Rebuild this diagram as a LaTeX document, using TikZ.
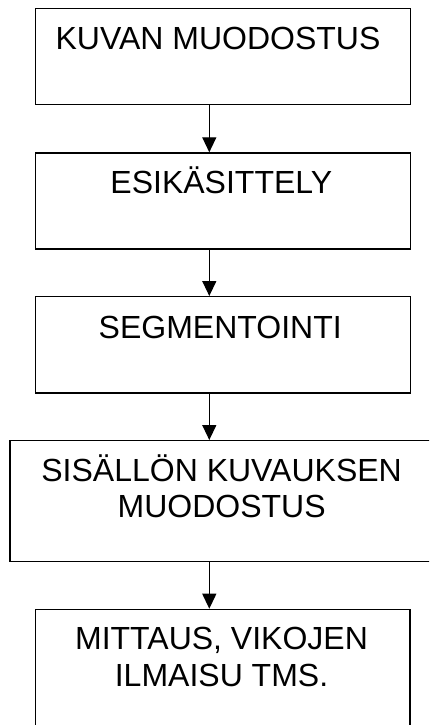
\documentclass[tikz,border=0pt]{standalone}
\usepackage{fontspec}
\setmainfont{Liberation Sans}
\usetikzlibrary{arrows.meta,calc}
\begin{document}
\begin{tikzpicture}[x=1pt,y=1pt,
  box/.style={draw=black,line width=1.3pt,rectangle,inner sep=0pt,anchor=north west},
  lbl/.style={anchor=base,align=center,inner sep=0pt,font=\fontsize{32}{36.7}\selectfont},
  arr/.style={draw=black,line width=1.3pt,-{Triangle[width=14pt,length=15pt]}}]
\useasboundingbox (0,0) rectangle (429,-725);
\begin{scope}
\clip (0,0) rectangle (429,-725);
\node[box,minimum width=375pt,minimum height=96pt] (b1) at (34.7,-8) {};
\node[box,minimum width=375pt,minimum height=96pt] (b2) at (34.7,-152.3) {};
\node[box,minimum width=375pt,minimum height=96.3pt] (b3) at (34.7,-296) {};
\node[box,minimum width=430pt,minimum height=121pt] (b4) at (9.3,-440) {};
\node[box,minimum width=374.6pt,minimum height=130pt] (b5) at (34.7,-608.7) {};
\end{scope}
\node[lbl] (t1) at (218,-49) {KUVAN MUODOSTUS};
\node[lbl] (t2) at (221.3,-193.3) {ESIKÄSITTELY};
\node[lbl] (t3) at (220.2,-338.3) {SEGMENTOINTI};
\node[lbl] (t4) at (221.6,-517.7) {SISÄLLÖN KUVAUKSEN\\MUODOSTUS};
\node[lbl] (t5) at (221.5,-686) {MITTAUS, VIKOJEN\\ILMAISU TMS.};
\coordinate (ax) at (209.3,0);
\draw[arr] (b1.south -| ax) -- (b2.north -| ax);
\draw[arr] (b2.south -| ax) -- (b3.north -| ax);
\draw[arr] (b3.south -| ax) -- (b4.north -| ax);
\draw[arr] (b4.south -| ax) -- (b5.north -| ax);
\end{tikzpicture}
\end{document}
